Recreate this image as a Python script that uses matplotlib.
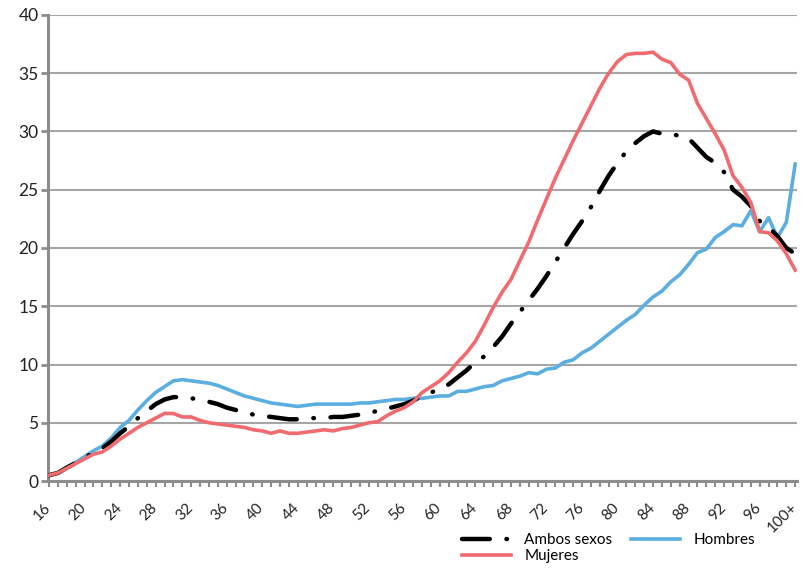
import numpy as np
import matplotlib.pyplot as plt
import matplotlib.ticker as mticker
import matplotlib.transforms as mtransforms

plt.rcParams['font.family'] = ['Lato', 'DejaVu Sans']
plt.rcParams['lines.scale_dashes'] = False

# Ages 16..99 and 100+
edades = [str(a) for a in range(16, 100)] + ['100+']

hombres = [0.5, 0.7, 1.2, 1.6, 2.1, 2.6, 3.0, 3.7, 4.6, 5.2,
           6.1, 6.9, 7.6, 8.1, 8.6, 8.7, 8.6, 8.5, 8.4, 8.2,
           7.9, 7.6, 7.3, 7.1, 6.9, 6.7, 6.6, 6.5, 6.4, 6.5,
           6.6, 6.6, 6.6, 6.6, 6.6, 6.7, 6.7, 6.8, 6.9, 7.0,
           7.0, 7.1, 7.1, 7.2, 7.3, 7.3, 7.7, 7.7, 7.9, 8.1,
           8.2, 8.6, 8.8, 9.0, 9.3, 9.2, 9.6, 9.7, 10.2, 10.4,
           11.0, 11.4, 12.0, 12.6, 13.2, 13.8, 14.3, 15.1, 15.8, 16.3,
           17.1, 17.7, 18.6, 19.6, 19.9, 20.9, 21.4, 22.0, 21.9, 23.2,
           21.4, 22.6, 20.9, 22.2, 27.2]

mujeres = [0.5, 0.7, 1.1, 1.5, 1.9, 2.3, 2.5, 3.0, 3.6, 4.1,
           4.6, 5.0, 5.4, 5.8, 5.8, 5.5, 5.5, 5.2, 5.0, 4.9,
           4.8, 4.7, 4.6, 4.4, 4.3, 4.1, 4.3, 4.1, 4.1, 4.2,
           4.3, 4.4, 4.3, 4.5, 4.6, 4.8, 5.0, 5.1, 5.6, 6.0,
           6.3, 6.8, 7.6, 8.1, 8.6, 9.3, 10.2, 11.0, 12.0, 13.4,
           14.9, 16.2, 17.3, 18.9, 20.5, 22.4, 24.2, 26.0, 27.6, 29.2,
           30.7, 32.2, 33.7, 35.0, 36.0, 36.6, 36.7, 36.7, 36.8, 36.2,
           35.9, 34.9, 34.4, 32.4, 31.1, 29.8, 28.4, 26.2, 25.2, 23.9,
           21.4, 21.3, 20.6, 19.5, 18.1]

ambos = [0.5, 0.7, 1.15, 1.55, 2.0, 2.45, 2.8, 3.4, 4.1, 4.7,
         5.4, 6.0, 6.6, 7.0, 7.2, 7.2, 7.1, 7.0, 6.8, 6.6,
         6.3, 6.1, 5.9, 5.7, 5.6, 5.5, 5.4, 5.3, 5.3, 5.4,
         5.4, 5.4, 5.5, 5.5, 5.6, 5.7, 5.9, 6.0, 6.2, 6.4,
         6.6, 6.9, 7.3, 7.6, 7.9, 8.3, 8.9, 9.5, 10.2, 10.7,
         11.5, 12.4, 13.5, 14.5, 15.5, 16.5, 17.6, 18.8, 20.0, 21.2,
         22.3, 23.5, 24.9, 26.2, 27.3, 28.3, 29.0, 29.6, 30.0, 29.8,
         29.8, 29.6, 29.4, 28.6, 27.8, 27.3, 26.5, 25.0, 24.4, 23.6,
         22.3, 21.8, 21.0, 20.0, 19.5]

x = np.arange(len(edades))
gris = '#8c8c8c'

fig = plt.figure(figsize=(8.03, 5.72), dpi=100)
ax = fig.add_axes([0.06, 0.159, 0.9325, 0.815])

ax.plot(x, ambos, color='black', linewidth=3.2, dashes=(20, 12, 0.4, 12),
        dash_capstyle='round', label='Ambos sexos', zorder=3)
ax.plot(x, mujeres, color='#f06b6f', linewidth=2.6, label='Mujeres', zorder=4)
ax.plot(x, hombres, color='#5aaee0', linewidth=2.6, label='Hombres', zorder=2)

ax.set_ylim(0, 40)
ax.set_xlim(-0.1, 84.2)
ax.yaxis.set_major_locator(mticker.MultipleLocator(5))
ax.set_xticks(x[::4])
ax.set_xticklabels(edades[::4], rotation=45, ha='right', rotation_mode='anchor')
ax.set_xticks(x, minor=True)

ax.grid(axis='y', color='#a6a6a6', linewidth=1.5)
ax.set_axisbelow(True)
for s in ['top', 'right']:
    ax.spines[s].set_visible(False)
for s in ['left', 'bottom']:
    ax.spines[s].set_color(gris)
    ax.spines[s].set_linewidth(2.2)

ax.tick_params(axis='y', colors=gris, width=2, length=5, labelsize=12.5,
               labelcolor='#222222', pad=2)
ax.tick_params(axis='x', which='both', colors=gris, width=1.5, length=4,
               direction='out', labelsize=11, labelcolor='#222222', pad=4)

# push the rotated labels a bit down and to the left (after tick_params)
offset = mtransforms.ScaledTranslation(-4 / 72, -5.8 / 72, fig.dpi_scale_trans)
for lab in ax.get_xticklabels():
    lab.set_transform(lab.get_transform() + offset)

handles, labels = ax.get_legend_handles_labels()
fig.legend(handles, labels, ncol=2, loc='upper left',
           bbox_to_anchor=(0.5675, 0.078), frameon=False, fontsize=11,
           handlelength=3.2, handletextpad=0.9, columnspacing=1.2,
           labelspacing=0.1, borderaxespad=0)

plt.savefig('out.png', dpi=100)
